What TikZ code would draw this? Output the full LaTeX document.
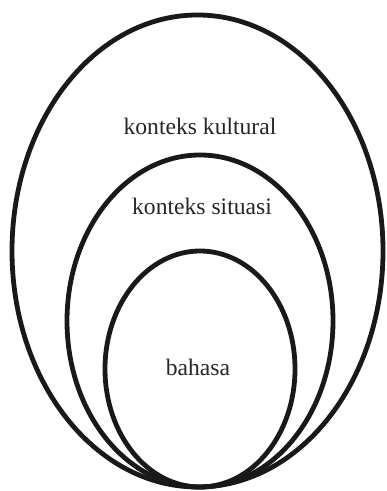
\documentclass[tikz,border=0pt]{standalone}
\usepackage{fontspec}
\setmainfont{Liberation Serif}
\usepackage{tikz}

\tikzset{
  ring/.style={draw=black!90,line width=2.4pt},
  lab/.style={anchor=base,inner sep=0pt,font=\fontsize{11.8}{14}\selectfont,text=black!85}
}

\begin{document}
\begin{tikzpicture}[x=0.5pt,y=-0.5pt]
\useasboundingbox (0,0) rectangle (386,491);
% three nested rings, all touching at the bottom
\draw[ring] (197.5,251) ellipse [x radius=185.5,y radius=236];
\draw[ring] (200,321) ellipse [x radius=133,y radius=166];
\draw[ring] (200,369) ellipse [x radius=95,y radius=118];
\node[lab] (kultural) at (200,135) {konteks kultural};
\node[lab] (situasi) at (202,215) {konteks situasi};
\node[lab] (bahasa) at (198,375) {bahasa};
\end{tikzpicture}
\end{document}
